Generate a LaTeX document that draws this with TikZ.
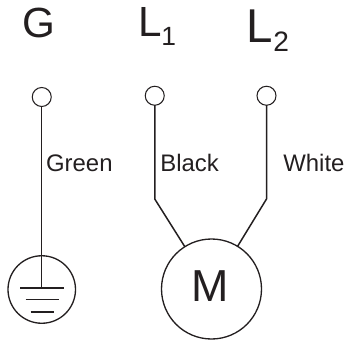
\documentclass[tikz,border=0pt]{standalone}
\usepackage{fontspec}
\setmainfont{Liberation Sans}
\usetikzlibrary{positioning,calc}
\definecolor{wdInk}{RGB}{35,31,32}
\tikzset{
  termNode/.style={circle, draw=wdInk, fill=white, line width=0.6pt, minimum size=0.38cm, inner sep=0pt, outer sep=0pt},
  loadNode/.style={circle, draw=wdInk, line width=0.75pt, inner sep=0pt, outer sep=0pt},
  wire/.style={draw=wdInk, line width=0.85pt},
  bigLabel/.style={inner sep=0pt, anchor=base west, text=wdInk, font=\fontsize{24}{26}\selectfont},
  subLabel/.style={inner sep=0pt, anchor=base west, text=wdInk, font=\fontsize{15}{16}\selectfont},
  wireLabel/.style={inner sep=0pt, anchor=base west, text=wdInk, font=\fontsize{13.6}{15}\selectfont}
}
\begin{document}
\begin{tikzpicture}
  \useasboundingbox (0,0) rectangle (6.88,6.84);

  % Terminals
  \node[termNode] (termG) at (0.835,4.90) {};
  \node[termNode] (termA) at (3.095,4.925) {};
  \node[termNode] (termB) at (5.33,4.925) {};

  % Terminal names
  \node[bigLabel] (nameG) at (0.44,6.09) {G};
  \node[bigLabel] (nameA) at (2.76,6.10) {L};
  \node[subLabel] (subA) at (3.22,5.92) {1};
  \node[bigLabel, font=\fontsize{27}{29}\selectfont] (nameB) at (4.93,5.98) {L};
  \node[subLabel, font=\fontsize{16}{18}\selectfont] (subB) at (5.46,5.80) {2};

  % Loads
  \node[loadNode, minimum size=1.35cm] (earth) at (0.835,1.05) {};
  \node[loadNode, minimum size=2.0cm] (motor) at (4.23,1.06) {};
  \node[inner sep=0pt, text=wdInk, font=\fontsize{25.5}{27}\selectfont] (lblM) at (4.20,1.11) {M};

  % Earth bars
  \coordinate (barTop) at (0.835,1.08);
  \draw[wire] (0.40,1.08) -- (1.27,1.08);
  \draw[wire] (0.51,0.846) -- (1.18,0.846);
  \draw[wire, line width=1pt] (0.61,0.606) -- (1.07,0.606);

  % Wires
  \coordinate (bendA) at (3.095,2.86);
  \coordinate (bendB) at (5.33,2.86);
  \draw[wire] (termG) -- (barTop);
  \draw[wire] (termA) -- (bendA) -- (motor);
  \draw[wire] (termB) -- (bendB) -- (motor);

  % Wire colours
  \node[wireLabel] (lblG) at (0.916,3.42) {Green};
  \node[wireLabel] (lblA) at (3.20,3.42) {Black};
  \node[wireLabel] (lblB) at (5.66,3.42) {White};
\end{tikzpicture}
\end{document}
